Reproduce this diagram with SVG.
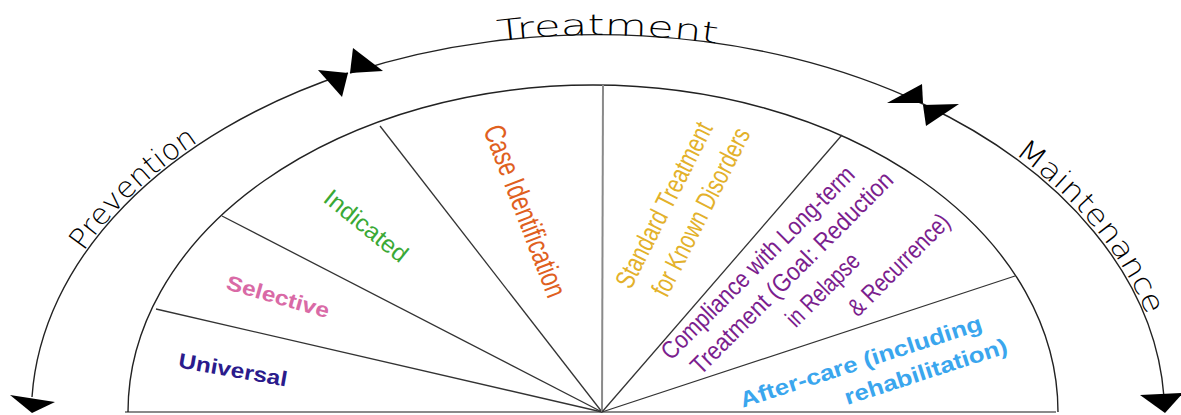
<svg xmlns="http://www.w3.org/2000/svg" width="1181" height="415" viewBox="0 0 1181 415">
<style>
.arc{fill:none;stroke:#222;stroke-width:1.4}
.spoke{stroke:#333;stroke-width:1.3}
.base{stroke:#8a8a8a;stroke-width:2}
.head{fill:#000}
.phase{font-family:"DejaVu Sans","Liberation Sans",sans-serif;font-weight:200;font-size:29px;fill:#000}
.lbl{font-family:"Liberation Sans",Arial,sans-serif;text-anchor:middle}
.rnd{font-weight:bold}
</style>
<defs>
<path id="tp-prev" d="M49.4,314.9 A568,383 0 0 1 314,82.3"/>
<path id="tp-treat" d="M404.4,57.9 A566,379 0 0 1 810,62.6"/>
<path id="tp-maint" d="M963.1,120.6 A568,383 0 0 1 1159,354.1"/>
</defs>
<rect width="1181" height="415" fill="#fff"/>
<g id="connectors">
<line class="base" x1="125" y1="412" x2="1056" y2="412"/>
<path class="arc" d="M128,412 A465,327 0 0 1 1058,412"/>
<line class="spoke" x1="602" y1="412" x2="156" y2="309"/>
<line class="spoke" x1="602" y1="412" x2="222" y2="216"/>
<line class="spoke" x1="602" y1="412" x2="380" y2="126"/>
<line class="base" x1="602" y1="412" x2="603" y2="85"/>
<line class="spoke" x1="602" y1="412" x2="842" y2="135"/>
<line class="spoke" x1="602" y1="412" x2="1015" y2="276"/>
<path id="arc-prevention" class="arc" d="M32,397 A566,381 0 0 1 348,73"/>
<path id="arc-treatment" class="arc" d="M350,73 A566,381 0 0 1 923,104"/>
<path id="arc-maintenance" class="arc" d="M923,104 A566,381 0 0 1 1164,397"/>
<polygon class="head" points="10,395 55,402 32,413"/>
<polygon class="head" points="318,70 348,73 342,97"/>
<polygon class="head" points="353,48 383,71 350,73"/>
<polygon class="head" points="887,103 922,84 923,103"/>
<polygon class="head" points="923,105 959,104 926,126"/>
<polygon class="head" points="1140,395 1183,393 1165,413"/>
</g>
<g id="phase-prevention"><text class="phase"><textPath href="#tp-prev" startOffset="152" text-anchor="middle" textLength="160" lengthAdjust="spacingAndGlyphs">Prevention</textPath></text></g>
<g id="phase-treatment"><text class="phase" font-size="31"><textPath href="#tp-treat" startOffset="50%" text-anchor="middle" textLength="220" lengthAdjust="spacingAndGlyphs">Treatment</textPath></text></g>
<g id="phase-maintenance"><text class="phase"><textPath href="#tp-maint" startOffset="167" text-anchor="middle" textLength="212" lengthAdjust="spacingAndGlyphs">Maintenance</textPath></text></g>
<g id="universal"><text class="lbl rnd" transform="translate(233,370) rotate(10)" dy="7" font-size="21" fill="#2b1b8c" textLength="110" lengthAdjust="spacingAndGlyphs">Universal</text></g>
<g id="selective"><text class="lbl rnd" transform="translate(278,297) rotate(16)" dy="7" font-size="21" fill="#d96aa6" textLength="106" lengthAdjust="spacingAndGlyphs">Selective</text></g>
<g id="indicated"><text class="lbl" transform="translate(366,226) rotate(39)" dy="8" font-size="24" fill="#3aa935" textLength="100" lengthAdjust="spacingAndGlyphs">Indicated</text></g>
<g id="case-identification"><text class="lbl" transform="translate(525,211) rotate(69)" dy="10" font-size="30" fill="#e0601e" textLength="182" lengthAdjust="spacingAndGlyphs">Case Identification</text></g>
<g id="standard-treatment" fill="#e3b12a" font-size="27">
<text class="lbl" transform="translate(664,205) rotate(-63)" dy="9" textLength="182" lengthAdjust="spacingAndGlyphs">Standard Treatment</text>
<text class="lbl" transform="translate(701,212) rotate(-63)" dy="9" textLength="185" lengthAdjust="spacingAndGlyphs">for Known Disorders</text>
</g>
<g id="compliance" fill="#7b1e8e" font-size="25">
<text class="lbl" transform="translate(758,263) rotate(-45)" dy="8" textLength="262" lengthAdjust="spacingAndGlyphs">Compliance with Long-term</text>
<text class="lbl" transform="translate(792,273) rotate(-45)" dy="8" textLength="275" lengthAdjust="spacingAndGlyphs">Treatment (Goal: Reduction</text>
<text class="lbl" transform="translate(823,290) rotate(-45)" dy="8" textLength="93" lengthAdjust="spacingAndGlyphs">in Relapse</text>
<text class="lbl" transform="translate(899,265) rotate(-45)" dy="8" textLength="133" lengthAdjust="spacingAndGlyphs">&amp; Recurrence)</text>
</g>
<g id="after-care" fill="#3aa6ee" font-size="22">
<text class="lbl rnd" transform="translate(861,362) rotate(-18)" dy="7" textLength="253" lengthAdjust="spacingAndGlyphs">After-care (including</text>
<text class="lbl rnd" transform="translate(926,372) rotate(-18)" dy="7" textLength="170" lengthAdjust="spacingAndGlyphs">rehabilitation)</text>
</g>
</svg>
